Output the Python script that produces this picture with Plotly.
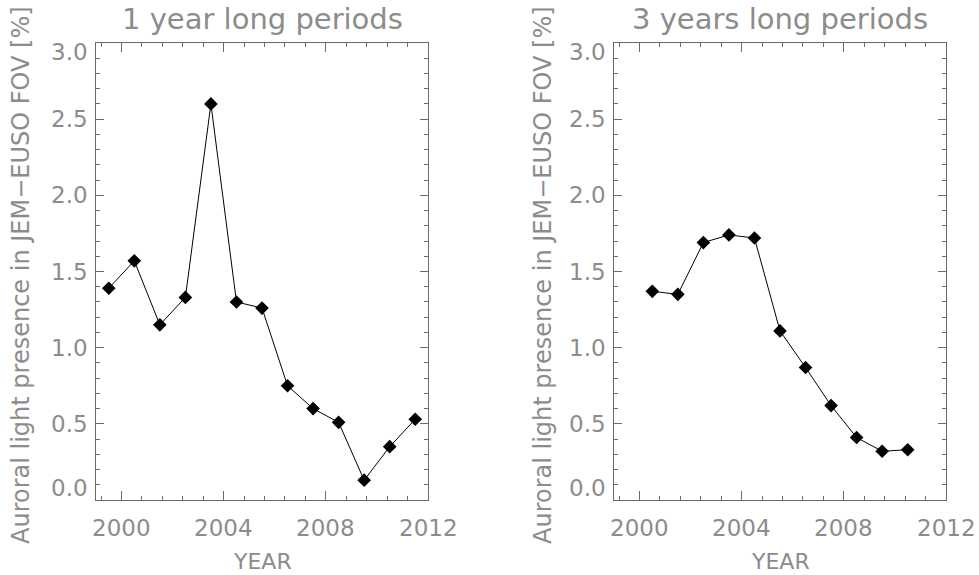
import plotly.graph_objects as go

# Data
years_1y = [1999.5, 2000.5, 2001.5, 2002.5, 2003.5, 2004.5, 2005.5,
            2006.5, 2007.5, 2008.5, 2009.5, 2010.5, 2011.5]
values_1y = [1.39, 1.57, 1.15, 1.33, 2.60, 1.30, 1.26, 0.75, 0.60, 0.51, 0.13, 0.35, 0.53]

years_3y = [2000.5, 2001.5, 2002.5, 2003.5, 2004.5, 2005.5,
            2006.5, 2007.5, 2008.5, 2009.5, 2010.5]
values_3y = [1.37, 1.35, 1.69, 1.74, 1.72, 1.11, 0.87, 0.62, 0.41, 0.32, 0.33]

titles = ["1 year long periods", "3 years long periods"]
ytitle = "Auroral light presence in JEM\u2212EUSO FOV [%]"
xtitle = "YEAR"
x_tickvals = [2000, 2004, 2008, 2012]
y_tickvals = [0.0, 0.5, 1.0, 1.5, 2.0, 2.5, 3.0]

W, H = 979, 575
FONT = "DejaVu Sans"
TXT = "#8c8c8c"
AX = "#6a6a6a"

fig = go.Figure()
for xs, ys, xa, ya in [(years_1y, values_1y, "x", "y"), (years_3y, values_3y, "x2", "y2")]:
    fig.add_trace(go.Scatter(x=xs, y=ys, mode="lines+markers",
                             line=dict(color="black", width=1),
                             marker=dict(symbol="diamond", size=10.5, color="black"),
                             xaxis=xa, yaxis=ya, showlegend=False, cliponaxis=False))

left_dom = [96 / W, 428 / W]
right_dom = [614 / W, 946 / W]
ydom = [(H - 500) / H, (H - 43) / H]

def xax(dom, anchor):
    return dict(domain=dom, anchor=anchor, range=[1999, 2012],
                tickmode="array", tickvals=x_tickvals, showticklabels=False,
                ticks="inside", ticklen=9, tickwidth=1, tickcolor=AX,
                showline=True, linecolor=AX, linewidth=1, mirror="ticks",
                showgrid=False, zeroline=False,
                minor=dict(tick0=2000, dtick=0.8, ticks="inside", ticklen=4,
                           tickcolor=AX, tickwidth=1, showgrid=False))

def yax(dom, anchor):
    return dict(domain=dom, anchor=anchor, range=[0, 3],
                tickmode="array", tickvals=y_tickvals, showticklabels=False,
                ticks="inside", ticklen=8, tickwidth=1, tickcolor=AX,
                showline=True, linecolor=AX, linewidth=1, mirror="ticks",
                showgrid=False, zeroline=False,
                minor=dict(tick0=0, dtick=0.1, ticks="inside", ticklen=4,
                           tickcolor=AX, tickwidth=1, showgrid=False))

fig.update_layout(
    width=W, height=H,
    margin=dict(l=0, r=0, t=0, b=0),
    paper_bgcolor="white", plot_bgcolor="white",
    xaxis=xax(left_dom, "y"), yaxis=yax(ydom, "x"),
    xaxis2=xax(right_dom, "y2"), yaxis2=yax(ydom, "x2"),
)

annots = []
panels = [(left_dom, titles[0], 21, "x", "y", 69),
          (right_dom, titles[1], 543, "x2", "y2", 587)]
for dom, t, ylab_x, xr, yr, ytick_x in panels:
    cx = (dom[0] + dom[1]) / 2
    annots.append(dict(text=t, x=cx, y=1 - 19 / H, xref="paper", yref="paper",
                       xanchor="center", yanchor="middle", showarrow=False,
                       font=dict(family=FONT, size=29, color=TXT)))
    annots.append(dict(text=xtitle, x=cx, y=1 - 561 / H, xref="paper", yref="paper",
                       xanchor="center", yanchor="middle", showarrow=False,
                       font=dict(family=FONT, size=22, color=TXT)))
    annots.append(dict(text=ytitle, x=ylab_x / W, y=1 - 275 / H, xref="paper", yref="paper",
                       xanchor="center", yanchor="middle", showarrow=False, textangle=-90,
                       font=dict(family=FONT, size=24, color=TXT)))
    # x tick labels
    for v in x_tickvals:
        annots.append(dict(text=str(v), x=v, xref=xr, y=1 - 528 / H, yref="paper",
                           xanchor="center", yanchor="middle", showarrow=False,
                           font=dict(family=FONT, size=23, color=TXT)))
    # y tick labels (end labels nudged inward, as in the original)
    for v in y_tickvals:
        shift = -9 if v == y_tickvals[-1] else (12 if v == y_tickvals[0] else 0)
        annots.append(dict(text="%.1f" % v, x=ytick_x / W, xref="paper", y=v, yref=yr,
                           xanchor="center", yanchor="middle", yshift=shift, showarrow=False,
                           font=dict(family=FONT, size=23, color=TXT)))
fig.update_layout(annotations=annots)

fig.write_html("out.html",
               config={"displayModeBar": False},
               post_script="document.body.style.margin='0';document.body.style.overflow='hidden';")
